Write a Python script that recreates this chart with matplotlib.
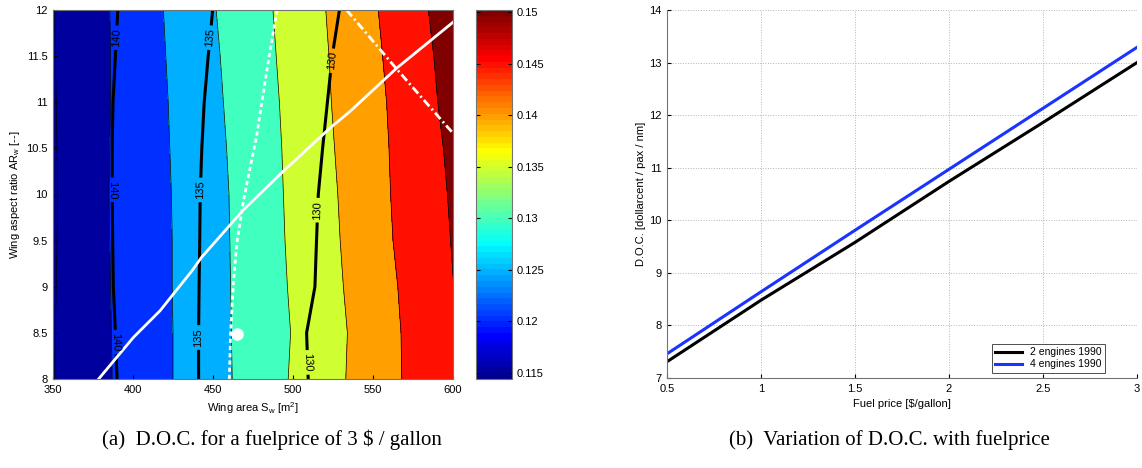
import numpy as np
import matplotlib
matplotlib.use("Agg")
import matplotlib.pyplot as plt
from matplotlib import colors as mcolors
from matplotlib import cm

plt.rcParams['font.family'] = ['Liberation Sans', 'DejaVu Sans']
plt.rcParams['mathtext.default'] = 'regular'

# --- D.O.C. map over wing area / aspect ratio (fuel 3 $/gallon) ---
ar_rows = [8, 8.5, 9, 9.5, 10, 10.5, 11, 11.5, 12]
doc_levels = [0.115, 0.12, 0.125, 0.13, 0.135, 0.14, 0.145, 0.15]
cbar_labels = ['0.115', '0.12', '0.125', '0.13', '0.135', '0.14', '0.145', '0.15']
doc_min, doc_max = 0.1144, 0.1502   # colour range of the map

# wing area where D.O.C. equals each level, one entry per aspect ratio row
s_doc115 = [351, 351.5, 352, 352.5, 353, 352.5, 352, 351.5, 351]
s_doc120 = [387, 386.5, 386, 385.5, 385, 385.5, 386, 386, 385.5]
s_doc125 = [425, 425, 424.5, 424.5, 424, 423, 422, 420.5, 419]
s_doc130 = [462, 461.5, 461, 460.5, 460, 458.5, 456.5, 454.5, 452]
s_doc135 = [497, 498.5, 496.5, 495, 494, 493, 491.5, 489.5, 487.5]
s_doc140 = [533, 534, 531.5, 529.5, 528, 526, 524, 522.5, 520.5]
s_doc145 = [568, 567.5, 565.5, 562.5, 561, 560, 558.5, 556, 553.3]
s_doc150 = [605, 603, 600.5, 598.5, 596.5, 594, 590.5, 588, 584.6]
doc_left = 0.1148     # at S = 350
doc_right = 0.1505    # at S = 615

# black iso-lines (labelled 140 / 135 / 130)
iso_levels = [130, 135, 140]
s_iso140 = [390, 389, 387.7, 387.3, 387, 387, 387.5, 389, 390.5]
s_iso135 = [441, 441, 441.3, 441.7, 442, 443, 444.5, 447, 449.8]
s_iso130 = [509.5, 508.5, 513.7, 514.7, 515.8, 518.5, 521.5, 524.5, 529]
iso_label_spots = [(389.5, 11.7), (387, 10.05), (389, 8.4),
                   (448, 11.7), (441.7, 10.05), (441, 8.45),
                   (524, 11.45), (515, 9.83), (509, 8.18)]

# white overlay curves
path_s = [378.5, 400.2, 416.9, 436.7, 442.9, 468.8, 493.8, 523.1, 535.6, 564.8, 600.2]
path_ar = [8.0, 8.45, 8.74, 9.17, 9.32, 9.83, 10.25, 10.72, 10.9, 11.37, 11.87]
dash_s = [460.2, 461, 462.7, 464.8, 469, 477.3, 483.5, 490]
dash_ar = [8, 8.49, 9.03, 9.46, 9.93, 10.64, 11.33, 12]
dashdot_s = [533.5, 564.8, 600.2]
dashdot_ar = [12, 11.36, 10.66]
design_s, design_ar = 465.2, 8.49

# --- D.O.C. versus fuel price ---
fuel_price = [0.5, 1.0, 1.5, 2.0, 2.5, 3.0]
doc_2eng = [7.31, 8.48, 9.58, 10.74, 11.86, 13.0]
doc_4eng = [7.46, 8.64, 9.81, 10.97, 12.13, 13.29]


def matlab_jet(m=64):
    # same construction as MATLAB's jet(m)
    n = int(np.ceil(m / 4))
    u = np.r_[np.arange(1, n + 1) / n, np.ones(n - 1), np.arange(n, 0, -1) / n]
    g = int(np.ceil(n / 2)) - int(m % 4 == 1) + np.arange(1, len(u) + 1)
    r = g + n
    b = g - n
    J = np.zeros((m, 3))
    J[g[g <= m] - 1, 1] = u[g <= m]
    J[r[r <= m] - 1, 0] = u[r <= m]
    J[b[b >= 1] - 1, 2] = u[b >= 1]
    return mcolors.ListedColormap(J)


W, H = 1142, 468
fig = plt.figure(figsize=(W / 100, H / 100), dpi=100)
ax1 = fig.add_axes([53 / W, (H - 379) / H, 400 / W, 369 / H])
cax = fig.add_axes([476 / W, (H - 379) / H, 35.5 / W, 369 / H])
ax2 = fig.add_axes([667 / W, (H - 378) / H, 470 / W, 368 / H])

jet64 = matlab_jet(64)
norm = mcolors.Normalize(vmin=doc_min, vmax=doc_max)

ar = np.array(ar_rows, dtype=float)
n = len(ar)
X = np.column_stack([np.full(n, 350.0), s_doc115, s_doc120, s_doc125, s_doc130,
                     s_doc135, s_doc140, s_doc145, s_doc150, np.full(n, 615.0)])
Z = np.tile([doc_left] + doc_levels + [doc_right], (n, 1))
Y = np.repeat(ar[:, None], X.shape[1], axis=1)

# each band takes the colour of its lower level
fill_levels = [0.11] + doc_levels + [0.16]
band_colors = [jet64(norm(v)) for v in [doc_min] + doc_levels]
ax1.contourf(X, Y, Z, levels=fill_levels, colors=band_colors)
ax1.contour(X, Y, Z, levels=doc_levels, colors='k', linewidths=0.5)

Xb = np.column_stack([np.full(n, 345.0), s_iso140, s_iso135, s_iso130, np.full(n, 615.0)])
Zb = np.tile([145, 140, 135, 130, 125], (n, 1))
Yb = np.repeat(ar[:, None], Xb.shape[1], axis=1)
cs = ax1.contour(Xb, Yb, Zb, levels=iso_levels, colors='k', linewidths=2.2)
ax1.clabel(cs, fmt='%d', fontsize=8, inline=True, inline_spacing=3,
           manual=iso_label_spots)

ax1.plot(path_s, path_ar, color='white', lw=2)
ax1.plot(dash_s, dash_ar, color='white', lw=2, dashes=(1.5, 1.1))
ax1.plot(dashdot_s, dashdot_ar, color='white', lw=2, dashes=(3, 1.2, 0.7, 1.2))
ax1.plot(design_s, design_ar, 'o', color='white', ms=8)

ax1.set_xlim(350, 600)
ax1.set_ylim(8, 12)
ax1.set_xticks(np.arange(350, 601, 50))
ax1.set_yticks(np.arange(8, 12.01, 0.5))
ax1.set_yticklabels(['8', '8.5', '9', '9.5', '10', '10.5', '11', '11.5', '12'])
ax1.tick_params(direction='in', length=3, labelsize=8, pad=4)
for sp in ax1.spines.values():
    sp.set_color('0.45')
    sp.set_linewidth(0.8)
ax1.set_xlabel('Wing area S$_w$ [m$^2$]', fontsize=8, labelpad=4)
ax1.set_ylabel('Wing aspect ratio AR$_w$ [--]', fontsize=8, labelpad=3)

sm = cm.ScalarMappable(norm=norm, cmap=jet64)
cb = fig.colorbar(sm, cax=cax, ticks=doc_levels)
cb.ax.set_yticklabels(cbar_labels)
cb.ax.tick_params(direction='in', length=3, labelsize=8, left=True, right=True)
cb.outline.set_edgecolor('0.45')
cb.outline.set_linewidth(0.8)

ax2.plot(fuel_price, doc_2eng, color='black', lw=2.2, label='2 engines 1990')
ax2.plot(fuel_price, doc_4eng, color='#1a33ff', lw=2.2, label='4 engines 1990')
ax2.set_xlim(0.5, 3)
ax2.set_ylim(7, 14)
ax2.set_xticks([0.5, 1, 1.5, 2, 2.5, 3])
ax2.set_xticklabels(['0.5', '1', '1.5', '2', '2.5', '3'])
ax2.set_yticks(range(7, 15))
ax2.grid(True, linestyle=':', color='0.7', lw=0.7)
ax2.spines['top'].set_visible(False)
ax2.spines['right'].set_visible(False)
for sp in ('left', 'bottom'):
    ax2.spines[sp].set_color('0.45')
    ax2.spines[sp].set_linewidth(0.8)
ax2.tick_params(direction='in', length=3, labelsize=8, pad=4)
ax2.set_xlabel('Fuel price [\\$/gallon]', fontsize=8, labelpad=4)
ax2.set_ylabel('D.O.C. [dollarcent / pax / nm]', fontsize=8, labelpad=2)
leg = ax2.legend(loc='lower right', bbox_to_anchor=(1105 / W, (H - 372.5) / H),
                 bbox_transform=fig.transFigure, borderaxespad=0, fontsize=7.5,
                 fancybox=False, edgecolor='0.3', framealpha=1,
                 handlelength=2.6, borderpad=0.3, labelspacing=0.2)
leg.get_frame().set_linewidth(0.7)

fig.text(272 / W, 1 - 440 / H, '(a)  D.O.C. for a fuelprice of 3 \\$ / gallon',
         ha='center', va='center', fontsize=15, family='Liberation Serif')
fig.text(889 / W, 1 - 440 / H, '(b)  Variation of D.O.C. with fuelprice',
         ha='center', va='center', fontsize=15, family='Liberation Serif')

fig.savefig('out.png', dpi=100)
